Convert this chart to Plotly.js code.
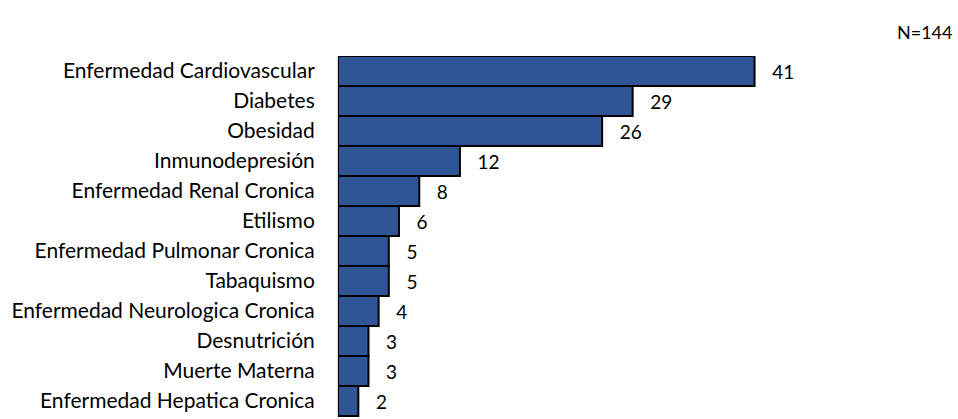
<!DOCTYPE html>
<html>
<head>
<meta charset="utf-8">
<script src="https://cdn.plot.ly/plotly-3.0.1.min.js"></script>
<style>
  body { margin: 0; background: #fff; }
  #chart { width: 958px; height: 419px; }
</style>
</head>
<body>
<div id="chart"></div>
<script>
// comorbilidades, de arriba hacia abajo
const categories = [
  'Enfermedad Cardiovascular',
  'Diabetes',
  'Obesidad',
  'Inmunodepresión',
  'Enfermedad Renal Cronica',
  'Etilismo',
  'Enfermedad Pulmonar Cronica',
  'Tabaquismo',
  'Enfermedad Neurologica Cronica',
  'Desnutrición',
  'Muerte Materna',
  'Enfermedad Hepatica Cronica'
];
const counts = [41, 29, 26, 12, 8, 6, 5, 5, 4, 3, 3, 2];
const totalLabel = 'N=144';

const nbsp = '\u00a0';
const font = 'Lato, sans-serif';

const trace = {
  type: 'bar',
  orientation: 'h',
  y: categories,
  x: counts,
  text: counts.map(v => nbsp + nbsp + nbsp + v),
  textposition: 'outside',
  cliponaxis: false,
  textfont: {family: font, size: 19, color: '#000'},
  marker: {color: '#2F5597', line: {color: '#000', width: 2}},
  hoverinfo: 'skip'
};

const layout = {
  width: 958,
  height: 419,
  margin: {l: 338, r: 112, t: 56, b: 0},
  paper_bgcolor: '#fff',
  plot_bgcolor: '#fff',
  bargap: 0,
  showlegend: false,
  xaxis: {
    range: [0, 50],
    visible: false,
    fixedrange: true
  },
  yaxis: {
    type: 'category',
    range: [11.6, -0.5],
    showline: true,
    linecolor: '#d9d9d9',
    linewidth: 1,
    showgrid: false,
    ticks: '',
    ticklabelstandoff: 18,
    tickfont: {family: font, size: 21, color: '#000'},
    fixedrange: true
  },
  annotations: [{
    xref: 'paper', yref: 'paper',
    x: 1.2146, y: 1 + 24 / 363,
    xanchor: 'right', yanchor: 'middle',
    text: totalLabel,
    showarrow: false,
    font: {family: font, size: 18, color: '#000'}
  }]
};

Plotly.newPlot('chart', [trace], layout, {displayModeBar: false, staticPlot: true});
</script>
</body>
</html>
